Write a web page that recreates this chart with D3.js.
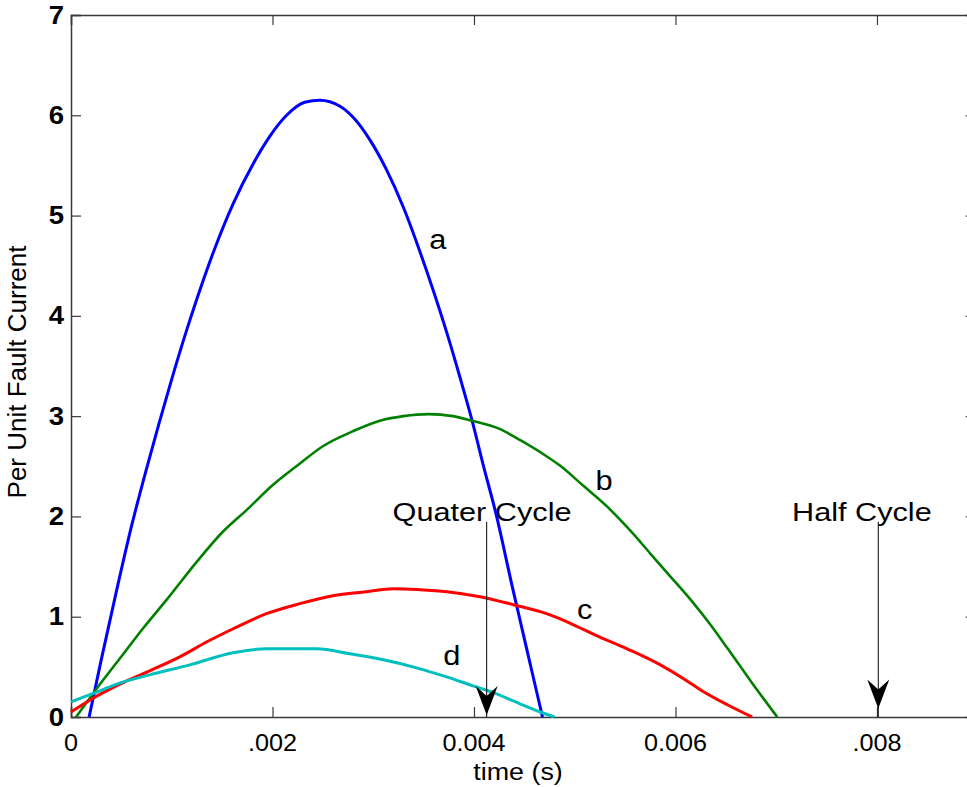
<!DOCTYPE html>
<html>
<head>
<meta charset="utf-8">
<script src="https://cdn.jsdelivr.net/npm/d3@7"></script>
<style>
  body { margin: 0; background: #fff; }
  svg { display: block; }
</style>
</head>
<body>
<svg id="chart" width="967" height="787"></svg>
<script>
// Fault current waveforms: time in milliseconds, current in per unit
const aTimeMs  = [0.18, 0.30, 0.45, 0.60, 0.77, 0.98, 1.13, 1.25, 1.43, 1.61, 1.81, 1.98, 2.14, 2.32, 2.47, 2.67, 2.80, 2.97, 3.13, 3.30, 3.46, 3.60, 3.74, 3.86, 3.98, 4.09, 4.22, 4.38, 4.53, 4.68];
const aCurrent = [0.00, 0.57, 1.25, 1.90, 2.55, 3.30, 3.80, 4.17, 4.68, 5.12, 5.52, 5.80, 6.00, 6.13, 6.15, 6.09, 5.98, 5.75, 5.46, 5.08, 4.65, 4.24, 3.80, 3.39, 2.96, 2.52, 2.02, 1.30, 0.65, 0.00];

const bTimeMs  = [0.05, 0.26, 0.49, 0.72, 0.95, 1.25, 1.50, 1.75, 2.00, 2.25, 2.50, 2.80, 3.05, 3.30, 3.55, 3.79, 3.96, 4.26, 4.46, 4.72, 4.85, 5.08, 5.32, 5.55, 5.75, 5.95, 6.15, 6.34, 6.52, 6.76, 7.01];
const bCurrent = [0.00, 0.29, 0.59, 0.89, 1.17, 1.55, 1.84, 2.07, 2.31, 2.51, 2.70, 2.85, 2.95, 3.00, 3.02, 3.00, 2.96, 2.87, 2.76, 2.60, 2.51, 2.31, 2.10, 1.86, 1.63, 1.40, 1.17, 0.93, 0.68, 0.34, 0.00];

const cTimeMs  = [0.00, 0.19, 0.49, 0.78, 1.08, 1.35, 1.61, 1.94, 2.27, 2.60, 2.93, 3.20, 3.46, 3.73, 4.06, 4.39, 4.72, 4.85, 5.05, 5.20, 5.52, 5.85, 6.10, 6.25, 6.52, 6.76];
const cCurrent = [0.05, 0.17, 0.33, 0.46, 0.60, 0.75, 0.88, 1.03, 1.13, 1.21, 1.25, 1.28, 1.27, 1.25, 1.20, 1.12, 1.03, 0.98, 0.89, 0.82, 0.68, 0.52, 0.37, 0.27, 0.12, 0.00];

const dTimeMs  = [0.00, 0.26, 0.49, 0.78, 1.18, 1.61, 1.94, 2.44, 2.77, 3.10, 3.43, 3.60, 3.76, 3.99, 4.20, 4.39, 4.66, 4.80];
const dCurrent = [0.15, 0.25, 0.34, 0.42, 0.52, 0.64, 0.68, 0.68, 0.63, 0.57, 0.49, 0.44, 0.39, 0.31, 0.24, 0.16, 0.05, 0.00];

const seriesNames  = ["a", "b", "c", "d"];
const seriesTimes  = [aTimeMs, bTimeMs, cTimeMs, dTimeMs];
const seriesValues = [aCurrent, bCurrent, cCurrent, dCurrent];

// where each curve's letter sits (ms, per unit, baseline)
const labelTimeMs  = [3.64, 5.29, 5.10, 3.78];
const labelCurrent = [4.67, 2.26, 0.98, 0.52];

// cycle markers
const markerNames  = ["Quater Cycle", "Half Cycle"];
const markerTimeMs = [4.126, 8.013];
const markerTextTimeMs = [4.08, 7.85];

const xTickValues = [0, 0.002, 0.004, 0.006, 0.008];
const xTickLabels = ["0", ".002", "0.004", "0.006", ".008"];
const yTickValues = [0, 1, 2, 3, 4, 5, 6, 7];

// ---- drawing ----
const svg = d3.select("#chart");
const colors = { a: "#0000ff", b: "#008000", c: "#ff0000", d: "#00bfbf" };
const widths = { a: 3, b: 2.6, c: 3, d: 3 };

const plotLeft = 71, plotRight = 975.7, plotTop = 15, plotBottom = 717;
const x = d3.scaleLinear().domain([0, 0.00898]).range([plotLeft, plotRight]);
const y = d3.scaleLinear().domain([0, 7]).range([plotBottom, plotTop]);

const axisColor = "#3a3a3a";
const tickLen = 10;

// helper for horizontally widened text
function wideText(g, px, py, str, opts) {
  const t = g.append("text")
    .attr("transform", `translate(${px},${py}) scale(${opts.k || 1},1)` + (opts.rotate ? ` rotate(${opts.rotate})` : ""))
    .attr("text-anchor", opts.anchor || "middle")
    .attr("font-family", "'Liberation Sans', Arial, sans-serif")
    .attr("font-size", opts.size)
    .attr("font-weight", opts.weight || "normal")
    .attr("fill", "#000")
    .text(str);
  if (opts.baseline) t.attr("dominant-baseline", opts.baseline);
  return t;
}

// axes with inward ticks on all four sides
const xAxisB = d3.axisBottom(x).tickValues(xTickValues).tickSize(-tickLen).tickFormat("");
const xAxisT = d3.axisTop(x).tickValues(xTickValues).tickSize(-tickLen).tickFormat("");
const yAxisL = d3.axisLeft(y).tickValues(yTickValues).tickSize(-tickLen).tickFormat("");
const yAxisR = d3.axisRight(y).tickValues(yTickValues).tickSize(-tickLen).tickFormat("");

function styleAxis(g) {
  g.selectAll("path").attr("stroke", axisColor).attr("stroke-width", 1.5);
  g.selectAll("line").attr("stroke", axisColor).attr("stroke-width", 1.2);
}
svg.append("g").attr("transform", `translate(0,${plotBottom})`).call(xAxisB).call(styleAxis);
svg.append("g").attr("transform", `translate(0,${plotTop})`).call(xAxisT).call(styleAxis);
svg.append("g").attr("transform", `translate(${plotLeft},0)`).call(yAxisL).call(styleAxis);
svg.append("g").attr("transform", `translate(${plotRight},0)`).call(yAxisR).call(styleAxis);
svg.selectAll(".domain").attr("fill", "none");

// tick labels
const labels = svg.append("g");
yTickValues.forEach(v => {
  wideText(labels, plotLeft - 7, y(v), String(v), { size: 25, weight: "bold", anchor: "end", k: 1.1, baseline: "central" });
});
xTickValues.forEach((v, i) => {
  wideText(labels, x(v), plotBottom + 34, xTickLabels[i], { size: 24, k: 1.05 });
});

// axis titles
wideText(labels, 518, 780, "time (s)", { size: 24, k: 1.12 });
wideText(labels, 26, 372, "Per Unit Fault Current", { size: 26, rotate: -90 });

// curves
const line = d3.line().x(d => x(d[0] / 1000)).y(d => y(d[1])).curve(d3.curveMonotoneX);
seriesNames.forEach((name, i) => {
  const pts = seriesTimes[i].map((t, j) => [t, seriesValues[i][j]]);
  svg.append("path")
    .datum(pts)
    .attr("d", line)
    .attr("fill", "none")
    .attr("stroke", colors[name])
    .attr("stroke-width", widths[name])
    .attr("stroke-linejoin", "round");
});

// curve letters
seriesNames.forEach((name, i) => {
  wideText(labels, x(labelTimeMs[i] / 1000), y(labelCurrent[i]), name, { size: 28, k: 1.1 });
});

// cycle markers with arrows down to the time axis
const markerTop = 1.947;
const arrowTip = [0.02, 0.085];
markerNames.forEach((name, i) => {
  const mx = x(markerTimeMs[i] / 1000);
  svg.append("line")
    .attr("x1", mx).attr("x2", mx)
    .attr("y1", y(markerTop)).attr("y2", y(0))
    .attr("stroke", "#000").attr("stroke-width", 1);
  const ty = y(arrowTip[i]);
  svg.append("path")
    .attr("d", `M${mx},${ty} L${mx - 11},${ty - 29} L${mx},${ty - 19} L${mx + 11},${ty - 29} Z`)
    .attr("fill", "#000");
  wideText(labels, x(markerTextTimeMs[i] / 1000), y(markerTop) - 1, name, { size: 26, k: 1.18 });
});
</script>
</body>
</html>
